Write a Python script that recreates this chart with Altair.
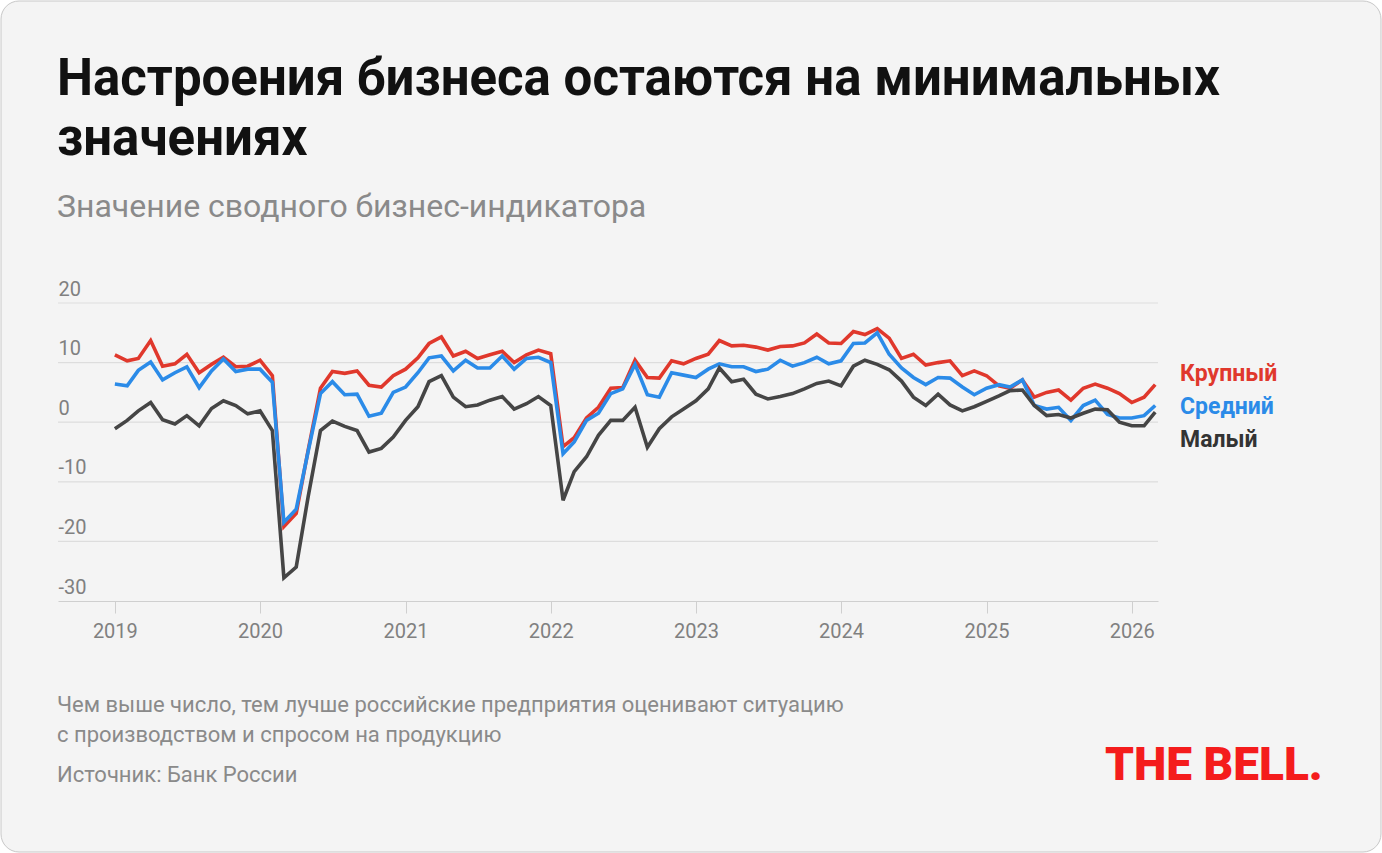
import altair as alt
import pandas as pd

# Сводный бизнес-индикатор Банка России, помесячно с января 2019 по март 2026
months = pd.date_range("2019-01-01", periods=87, freq="MS")

large = [
    11.3, 10.3, 10.7, 13.7, 9.4, 9.8, 11.4, 8.3, 9.7, 10.9, 9.3, 9.4,
    10.4, 7.8, -17.5, -15.3, -4.7, 5.7, 8.5, 8.2, 8.6, 6.2, 5.9, 7.8,
    8.9, 10.8, 13.2, 14.3, 11.1, 11.9, 10.7, 11.3, 11.9, 10.0, 11.3, 12.1,
    11.5, -4.1, -2.6, 0.7, 2.5, 5.7, 5.8, 10.4, 7.5, 7.4, 10.3, 9.8,
    10.7, 11.4, 13.7, 12.8, 12.9, 12.6, 12.1, 12.7, 12.8, 13.3, 14.8, 13.3,
    13.2, 15.2, 14.7, 15.7, 14.1, 10.7, 11.4, 9.6, 10.0, 10.3, 7.8, 8.6,
    7.8, 6.1, 5.7, 7.1, 4.2, 5.0, 5.4, 3.7, 5.7, 6.4, 5.7, 4.8,
    3.3, 4.2, 6.3,
]
medium = [
    6.4, 6.1, 8.7, 10.1, 7.1, 8.3, 9.3, 5.8, 8.6, 10.6, 8.5, 8.9,
    8.9, 6.7, -16.8, -14.6, -4.9, 4.8, 6.8, 4.6, 4.7, 1.0, 1.5, 5.0,
    5.9, 8.3, 10.8, 11.1, 8.6, 10.4, 9.1, 9.1, 11.1, 8.9, 10.7, 10.9,
    10.0, -5.3, -3.3, 0.3, 1.5, 4.8, 5.6, 9.7, 4.6, 4.2, 8.3, 7.9,
    7.5, 8.9, 9.8, 9.3, 9.3, 8.5, 8.9, 10.4, 9.4, 10.0, 10.9, 9.8,
    10.3, 13.2, 13.3, 15.0, 11.4, 9.1, 7.5, 6.3, 7.5, 7.4, 5.9, 4.6,
    5.7, 6.3, 5.9, 7.1, 2.8, 2.2, 2.5, 0.3, 2.8, 3.7, 1.3, 0.7,
    0.7, 1.1, 2.8,
]
small = [
    -1.1, 0.3, 1.9, 3.3, 0.4, -0.3, 1.1, -0.6, 2.3, 3.6, 2.8, 1.4,
    1.9, -1.4, -26.1, -24.3, -12.5, -1.4, 0.2, -0.7, -1.4, -5.0, -4.4, -2.5,
    0.3, 2.6, 6.8, 7.8, 4.2, 2.6, 2.9, 3.7, 4.3, 2.2, 3.1, 4.3,
    2.8, -13.1, -8.3, -5.8, -2.2, 0.3, 0.3, 2.5, -4.2, -1.1, 0.9, 2.2,
    3.6, 5.6, 9.1, 6.8, 7.2, 4.7, 3.9, 4.3, 4.8, 5.6, 6.5, 6.9,
    6.1, 9.4, 10.4, 9.7, 8.8, 6.9, 4.2, 2.8, 4.7, 2.9, 1.9, 2.6,
    3.5, 4.4, 5.3, 5.4, 2.8, 1.1, 1.3, 0.7, 1.5, 2.2, 2.1, 0.0,
    -0.6, -0.6, 1.7,
]

series_names = ["Крупный", "Средний", "Малый"]
series_colors = ["#e0382c", "#2b8be8", "#454545"]
y_ticks = [-30, -20, -10, 0, 10, 20]

title_lines = ["Настроения бизнеса остаются на минимальных", "значениях"]
subtitle = "Значение сводного бизнес-индикатора"
note_lines = [
    "Чем выше число, тем лучше российские предприятия оценивают ситуацию",
    "с производством и спросом на продукцию",
]
source = "Источник: Банк России"
logo = "THE BELL."

FONT = "Roboto"
W, H = 1100, 298
LEFT, TOP = 58, 303

df = pd.concat(
    [
        pd.DataFrame({"date": months, "value": vals, "series": name})
        for name, vals in zip(series_names, [large, medium, small])
    ],
    ignore_index=True,
)

x_scale = alt.Scale(domain=["2018-08-11", "2026-03-08"])
y_scale = alt.Scale(domain=[-30, 20], nice=False, zero=False)

x_axis = alt.Axis(
    format="%Y",
    tickCount={"interval": "year", "step": 1},
    grid=False,
    domainColor="#cfcfcf",
    tickColor="#cfcfcf",
    tickSize=12,
    labelColor="#808080",
    labelFontSize=20,
    labelPadding=8,
    labelFlush=False,
    zindex=1,
)
y_axis = alt.Axis(
    values=y_ticks,
    grid=False,
    domain=False,
    ticks=False,
    tickSize=0,
    labelAlign="left",
    labelBaseline="alphabetic",
    labelPadding=0,
    labelOffset=-8,
    labelColor="#808080",
    labelFontSize=20,
    labelExpr="datum.value + ''",
    zindex=1,
)

x_enc = alt.X("date:T", scale=x_scale, title=None, axis=x_axis)
y_enc = alt.Y("value:Q", scale=y_scale, title=None, axis=y_axis)

one = pd.DataFrame({"k": [0]})

# светлая карточка со скруглёнными углами
card = alt.Chart(one).mark_rect(
    fill="#f4f4f4", stroke="#c8c8c8", strokeWidth=1, cornerRadius=18
).encode(
    x=alt.value(-LEFT + 1),
    x2=alt.value(1382 - LEFT - 1),
    y=alt.value(-TOP + 1),
    y2=alt.value(853 - TOP - 1),
)

# горизонтальная сетка по значениям делений оси
grid = alt.Chart(pd.DataFrame({"value": y_ticks[1:]})).mark_rule(
    color="#dddddd", strokeWidth=1.2
).encode(y=y_enc)

color_scale = alt.Scale(domain=series_names, range=series_colors)

lines = [
    alt.Chart(df)
    .transform_filter(alt.datum.series == name)
    .mark_line(strokeWidth=3.6, strokeJoin="miter")
    .encode(x=x_enc, y=y_enc, color=alt.Color("series:N", scale=color_scale, legend=None))
    for name in series_names
]


def label(text, x, y, size, color, weight="normal", font=FONT):
    return alt.Chart(pd.DataFrame({"t": [text]})).mark_text(
        align="left", baseline="alphabetic", fontSize=size, color=color,
        fontWeight=weight, font=font,
    ).encode(text="t:N", x=alt.value(x), y=alt.value(y))


texts = [
    label(title_lines[0], -1, -208, 51, "#111111", "bold"),
    label(title_lines[1], -1, -148, 51, "#111111", "bold"),
    label(subtitle, -1, -86, 32, "#8a8a8a"),
    label(note_lines[0], -1, 409, 22, "#8a8a8a"),
    label(note_lines[1], -1, 439, 22, "#8a8a8a"),
    label(source, -1, 479, 22, "#8a8a8a"),
    label(series_names[0], 1122, 78, 23, series_colors[0], "bold"),
    label(series_names[1], 1122, 111, 23, series_colors[1], "bold"),
    label(series_names[2], 1122, 144, 23, "#333333", "bold"),
    label(logo, 1047, 477, 46, "#f41c1c", 900),
]

chart = (
    alt.layer(card, grid, *lines, *texts)
    .properties(
        width=W,
        height=H,
        autosize=alt.AutoSizeParams(type="none"),
        padding={"left": LEFT, "top": TOP, "right": 1382 - LEFT - W, "bottom": 853 - TOP - H},
        background="white",
    )
    .configure(font=FONT)
    .configure_view(stroke=None)
)

chart.save("out.html", embed_options={"renderer": "svg", "actions": False})
